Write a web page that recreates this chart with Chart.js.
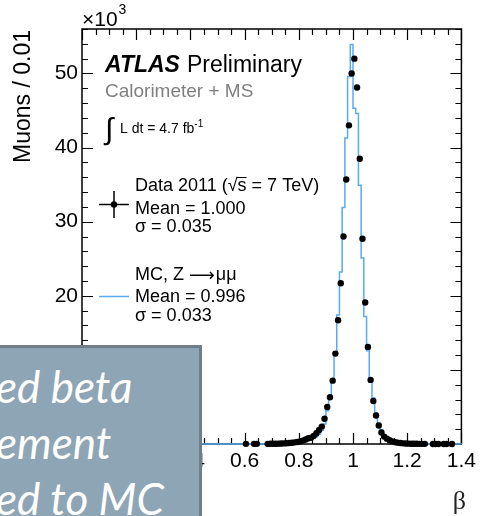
<!DOCTYPE html>
<html>
<head>
<meta charset="utf-8">
<script src="https://cdn.jsdelivr.net/npm/chart.js@4.4.1/dist/chart.umd.min.js"></script>
<style>
  html, body { margin: 0; padding: 0; background: #fff; overflow: hidden; }
  #wrap { position: relative; width: 481px; height: 516px; overflow: hidden; }
  #slideBox {
    position: absolute; left: -10px; top: 345px; width: 209px; height: 200px;
    background: #8ea5b5; border-top: 3px solid #6e7e8a; border-right: 3px solid #6e7e8a;
  }
  #slideText {
    position: absolute; left: -4px; top: 358px; color: #fff; white-space: nowrap;
    font: italic 400 44px Lato; line-height: 56px;
  }
</style>
</head>
<body>
<div id="wrap">
  <canvas id="betaChart" width="481" height="516"></canvas>
  <div id="slideBox"></div>
  <div id="slideText">ed beta<br>ement<br>ed to MC</div>
</div>
<script>
// bins of 0.01 in beta, starting at 0.60 (values in units of 10^3 muons)
const firstBinEdge = 0.60;
const binWidth = 0.01;

// Data 2011, one value per bin (null = empty bin, not drawn)
const dataCounts = [
  0.02, null, null, 0.02, 0.02, null, null, null, 0.02, 0.03,
  0.03, 0.04, 0.05, 0.06, 0.08, 0.10, 0.13, 0.17, 0.22, 0.28,
  0.36, 0.46, 0.60, 0.78, 0.85, 1.10, 1.45, 1.90, 2.35, 3.40,
  5.00, 6.30, 8.55, 12.2, 16.7, 21.7, 28.0, 35.7, 43.0, 50.0,
  52.0, 48.1, 38.5, 27.7, 19.1, 13.1, 8.65, 5.80, 3.85, 2.50,
  1.55, 1.00, 0.70, 0.50, 0.35, 0.25, 0.18, 0.13, 0.09, 0.07,
  0.05, 0.04, 0.03, 0.03, 0.02, 0.02, 0.02, null, null, 0.01,
  0.01, 0.01, null, 0.01, 0.01, null, 0.01, null, null, null
];

// MC Z -> mumu histogram, same bins
const mcCounts = [
  0.005, 0.006, 0.007, 0.008, 0.010, 0.012, 0.014, 0.017, 0.020, 0.025,
  0.030, 0.036, 0.044, 0.053, 0.065, 0.080, 0.10, 0.12, 0.15, 0.19,
  0.24, 0.30, 0.38, 0.48, 0.62, 0.78, 0.98, 1.30, 1.85, 2.70,
  4.50, 6.30, 8.40, 12.3, 17.4, 23.2, 31.9, 41.3, 49.6, 53.9,
  45.3, 44.6, 34.9, 25.1, 17.2, 12.6, 8.70, 6.20, 4.20, 2.80,
  1.90, 1.25, 0.85, 0.58, 0.40, 0.28, 0.20, 0.14, 0.10, 0.07,
  0.05, 0.04, 0.03, 0.02, 0.015, 0.012, 0.010, 0.008, 0.006, 0.005,
  0.004, 0.003, 0.003, 0.002, 0.002, 0.002, 0.001, 0.001, 0.001, 0.001
];

const xTickValues = [0, 0.2, 0.4, 0.6, 0.8, 1.0, 1.2, 1.4];
const yTickValues = [0, 10, 20, 30, 40, 50];

// points at bin centres for data
const dataPoints = [];
dataCounts.forEach((v, i) => {
  if (v !== null) dataPoints.push({ x: firstBinEdge + (i + 0.5) * binWidth, y: v });
});

// step outline for MC: left edges, then closing edge
const mcPoints = [{ x: 0, y: 0 }];
mcCounts.forEach((v, i) => mcPoints.push({ x: firstBinEdge + i * binWidth, y: v }));
mcPoints.push({ x: firstBinEdge + mcCounts.length * binWidth, y: 0 });

const FONT = '"Liberation Sans", Arial, sans-serif';
const MC_BLUE = '#5aaaf0';

// frame + inward ROOT style ticks
const frameAndTicks = {
  id: 'frameAndTicks',
  beforeDatasetsDraw(chart) {
    const { ctx, chartArea: a, scales: { x, y } } = chart;
    ctx.save();
    ctx.strokeStyle = '#000';
    ctx.lineWidth = 1.5;
    ctx.strokeRect(a.left, a.top, a.right - a.left, a.bottom - a.top);
    ctx.lineWidth = 1.2;
    ctx.beginPath();
    for (let i = 0; i <= 28; i++) {
      const px = Math.round(x.getPixelForValue(i * 0.05)) + 0.5;
      const len = i % 4 === 0 ? 11 : 6;
      ctx.moveTo(px, a.bottom); ctx.lineTo(px, a.bottom - len);
      ctx.moveTo(px, a.top); ctx.lineTo(px, a.top + len);
    }
    for (let v = 0; v <= 56; v += 2) {
      const py = Math.round(y.getPixelForValue(v)) + 0.5;
      const len = v % 10 === 0 ? 11 : 6;
      ctx.moveTo(a.left, py); ctx.lineTo(a.left + len, py);
      ctx.moveTo(a.right, py); ctx.lineTo(a.right - len, py);
    }
    ctx.stroke();
    ctx.restore();
  }
};

// labels, legend and titles drawn on the canvas
const annotations = {
  id: 'annotations',
  afterDraw(chart) {
    const ctx = chart.ctx;
    ctx.save();
    ctx.fillStyle = '#000';
    ctx.textBaseline = 'alphabetic';

    // x10^3
    ctx.font = '21px ' + FONT;
    ctx.fillText('×10', 82, 26);
    let w = ctx.measureText('×10').width;
    ctx.font = '14px ' + FONT;
    ctx.fillText('3', 82 + w + 1, 14);

    // y axis title
    ctx.save();
    ctx.translate(30, 30);
    ctx.rotate(-Math.PI / 2);
    ctx.textAlign = 'right';
    ctx.font = '23px ' + FONT;
    ctx.fillText('Muons / 0.01', 0, 0);
    ctx.restore();

    // x axis title
    ctx.save();
    ctx.textAlign = 'right';
    ctx.fillStyle = '#222';
    ctx.font = '26px "Liberation Serif", serif';
    ctx.fillText('β', 466, 509);
    ctx.restore();

    // ATLAS Preliminary
    ctx.font = 'italic bold 23px ' + FONT;
    ctx.fillText('ATLAS', 105, 72);
    w = ctx.measureText('ATLAS').width;
    ctx.font = '23px ' + FONT;
    ctx.fillText('Preliminary', 105 + w + 7, 72);

    ctx.fillStyle = '#808080';
    ctx.font = '19px ' + FONT;
    ctx.fillText('Calorimeter + MS', 105, 97);

    // luminosity
    ctx.fillStyle = '#000';
    ctx.font = '30px ' + FONT;
    ctx.fillText('∫', 105, 139);
    ctx.font = '14px ' + FONT;
    ctx.fillText('L dt = 4.7 fb', 120, 133);
    w = ctx.measureText('L dt = 4.7 fb').width;
    ctx.font = '10px ' + FONT;
    ctx.fillText('-1', 120 + w, 127);

    // legend: data
    ctx.strokeStyle = '#000';
    ctx.lineWidth = 1.5;
    ctx.beginPath();
    ctx.moveTo(99, 204.5); ctx.lineTo(129, 204.5);
    ctx.moveTo(114, 191); ctx.lineTo(114, 218);
    ctx.stroke();
    ctx.beginPath();
    ctx.arc(114, 204.5, 3.2, 0, Math.PI * 2);
    ctx.fill();

    ctx.font = '18px ' + FONT;
    const pre = 'Data 2011 (√';
    ctx.fillText(pre + 's = 7 TeV)', 135, 191);
    const x0 = 135 + ctx.measureText(pre).width;
    const ws = ctx.measureText('s').width;
    ctx.lineWidth = 1;
    ctx.beginPath();
    ctx.moveTo(x0 - 1, 177.5); ctx.lineTo(x0 + ws, 177.5);
    ctx.stroke();
    ctx.fillText('Mean = 1.000', 135, 213.5);
    ctx.fillText('σ = 0.035', 135, 232);

    // legend: MC
    ctx.strokeStyle = MC_BLUE;
    ctx.lineWidth = 1.5;
    ctx.beginPath();
    ctx.moveTo(99, 296.5); ctx.lineTo(129, 296.5);
    ctx.stroke();
    ctx.fillText('MC, Z ', 135, 280);
    let xx = 135 + ctx.measureText('MC, Z ').width;
    ctx.font = '18px "DejaVu Sans", sans-serif';
    ctx.fillText('⟶', xx, 281);
    xx += ctx.measureText('⟶').width + 1;
    ctx.font = '18px ' + FONT;
    ctx.fillText('μμ', xx, 280);
    ctx.fillText('Mean = 0.996', 135, 302);
    ctx.fillText('σ = 0.033', 135, 321);

    ctx.restore();
  }
};

new Chart(document.getElementById('betaChart'), {
  type: 'scatter',
  data: {
    datasets: [
      {
        label: 'Data 2011',
        data: dataPoints,
        order: 0,
        pointRadius: 3.2,
        pointBorderWidth: 0,
        backgroundColor: '#000',
        borderColor: '#000',
        clip: false
      },
      {
        type: 'line',
        label: 'MC, Z → μμ',
        data: mcPoints,
        order: 1,
        stepped: 'before',
        borderColor: MC_BLUE,
        borderWidth: 1.5,
        pointRadius: 0,
        fill: false,
        clip: false
      }
    ]
  },
  options: {
    responsive: false,
    animation: false,
    devicePixelRatio: 1,
    layout: { padding: { top: 29, right: 15, left: 0, bottom: 0 } },
    plugins: { legend: { display: false }, tooltip: { enabled: false } },
    scales: {
      x: {
        type: 'linear',
        min: 0,
        max: 1.4,
        afterFit: s => { s.height = 72; },
        afterBuildTicks: s => { s.ticks = xTickValues.map(v => ({ value: v })); },
        grid: { display: false, drawTicks: false },
        border: { display: false },
        ticks: {
          padding: 5,
          color: '#000',
          font: { family: FONT, size: 21 },
          maxRotation: 0,
          callback: v => String(+v.toFixed(1))
        }
      },
      y: {
        type: 'linear',
        min: 0,
        max: 56,
        afterFit: s => { s.width = 82; },
        afterBuildTicks: s => { s.ticks = yTickValues.map(v => ({ value: v })); },
        grid: { display: false, drawTicks: false },
        border: { display: false },
        ticks: {
          padding: 4,
          color: '#000',
          font: { family: FONT, size: 21 },
          callback: v => String(v)
        }
      }
    }
  },
  plugins: [frameAndTicks, annotations]
});
</script>
</body>
</html>
